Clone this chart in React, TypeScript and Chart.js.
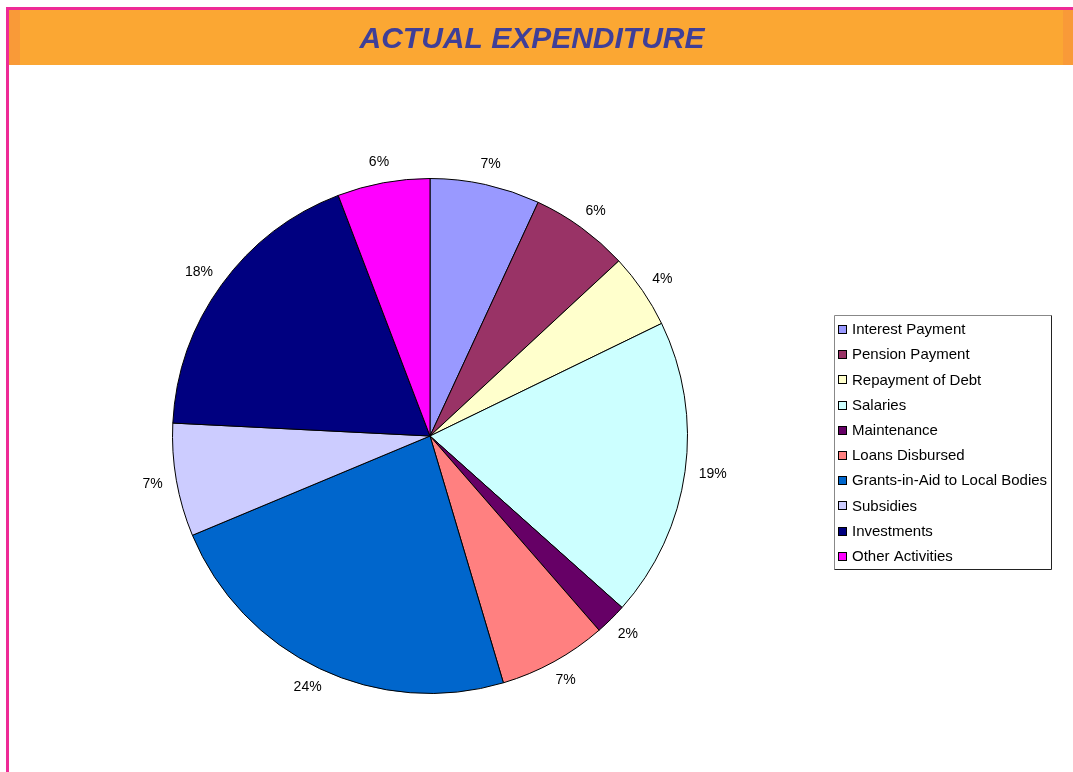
import React, { useEffect, useRef } from "react";
import { Chart, registerables } from "chart.js";

Chart.register(...registerables);

const categories = [
  "Interest Payment",
  "Pension Payment",
  "Repayment of Debt",
  "Salaries",
  "Maintenance",
  "Loans Disbursed",
  "Grants-in-Aid to Local Bodies",
  "Subsidies",
  "Investments",
  "Other Activities",
];
const values = [6.9, 6.2, 4.7, 18.8, 2.0, 6.8, 23.3, 7.1, 18.4, 5.8];
const pctLabels = ["7%", "6%", "4%", "19%", "2%", "7%", "24%", "7%", "18%", "6%"];
const colors = [
  "#9999FF",
  "#993366",
  "#FFFFCC",
  "#CCFFFF",
  "#660066",
  "#FF8080",
  "#0066CC",
  "#CCCCFF",
  "#000080",
  "#FF00FF",
];
const titleText = "ACTUAL EXPENDITURE";

const FONT = '"Liberation Sans", Arial, sans-serif';

const framePlugin = {
  id: "frame",
  beforeDraw(chart: any) {
    const ctx = chart.ctx as CanvasRenderingContext2D;
    ctx.save();
    ctx.fillStyle = "#ffffff";
    ctx.fillRect(0, 0, chart.width, chart.height);
    ctx.fillStyle = "#FBA733";
    ctx.fillRect(9, 10, 1064, 55);
    ctx.fillStyle = "#F99A38";
    ctx.fillRect(9, 10, 11, 55);
    ctx.fillRect(1063, 10, 10, 55);
    ctx.fillStyle = "#EE2A96";
    ctx.fillRect(6, 7, 1067, 3);
    ctx.fillRect(6, 7, 3, 765);
    ctx.fillStyle = "#3F3F98";
    ctx.font = `italic bold 30px ${FONT}`;
    ctx.textAlign = "center";
    ctx.textBaseline = "alphabetic";
    ctx.fillText(titleText, 532, 48);
    ctx.restore();
  },
};

const overlayPlugin = {
  id: "overlay",
  afterDraw(chart: any) {
    const ctx = chart.ctx as CanvasRenderingContext2D;
    const meta = chart.getDatasetMeta(0);
    ctx.save();
    ctx.font = `14px ${FONT}`;
    ctx.fillStyle = "#000000";
    ctx.textAlign = "center";
    ctx.textBaseline = "middle";
    meta.data.forEach((arc: any, i: number) => {
      const p = arc.getProps(["x", "y", "startAngle", "endAngle", "outerRadius"], true);
      const mid = (p.startAngle + p.endAngle) / 2;
      const halfW = ctx.measureText(pctLabels[i]).width / 2;
      const d = p.outerRadius + 14;
      const cx = p.x + Math.cos(mid) * (d + halfW);
      const cy = p.y + Math.sin(mid) * (d + 7);
      ctx.fillText(pctLabels[i], cx, cy);
    });
    const bx = 834.5, by = 315.5, bw = 217, bh = 254;
    ctx.fillStyle = "#ffffff";
    ctx.fillRect(bx, by, bw, bh);
    ctx.lineWidth = 1;
    ctx.strokeStyle = "#888888";
    ctx.beginPath();
    ctx.moveTo(bx, by + bh);
    ctx.lineTo(bx, by);
    ctx.lineTo(bx + bw, by);
    ctx.stroke();
    ctx.strokeStyle = "#222222";
    ctx.beginPath();
    ctx.moveTo(bx + bw, by);
    ctx.lineTo(bx + bw, by + bh);
    ctx.lineTo(bx, by + bh);
    ctx.stroke();
    ctx.textAlign = "left";
    ctx.textBaseline = "middle";
    ctx.font = `15px ${FONT}`;
    const labels = chart.data.labels as string[];
    const bg = chart.data.datasets[0].backgroundColor as string[];
    labels.forEach((lab, i) => {
      const cy = 329 + i * 25.2;
      const sy = Math.round(cy - 4) + 0.5;
      ctx.fillStyle = bg[i];
      ctx.fillRect(838.5, sy, 8, 8);
      ctx.strokeStyle = "#000000";
      ctx.strokeRect(838.5, sy, 8, 8);
      ctx.fillStyle = "#000000";
      ctx.fillText(lab, 852, cy + 1);
    });
    ctx.restore();
  },
};

export default function App() {
  const ref = useRef<HTMLCanvasElement | null>(null);
  useEffect(() => {
    if (!ref.current) return;
    const chart = new Chart(ref.current, {
      type: "pie",
      data: {
        labels: categories,
        datasets: [
          {
            data: values,
            backgroundColor: colors,
            borderColor: "#000000",
            borderWidth: 1,
            hoverBorderWidth: 1,
            hoverOffset: 0,
          },
        ],
      },
      options: {
        animation: false,
        responsive: false,
        events: [],
        layout: { padding: { left: 172, right: 385, top: 178, bottom: 78 } },
        plugins: {
          legend: { display: false },
          tooltip: { enabled: false },
          title: { display: false },
        },
      },
      plugins: [framePlugin, overlayPlugin],
    });
    return () => chart.destroy();
  }, []);
  return (
    <div style={{ position: "absolute", left: 0, top: 0, width: 1073, height: 772 }}>
      <canvas ref={ref} width={1073} height={772} style={{ display: "block" }} />
    </div>
  );
}
